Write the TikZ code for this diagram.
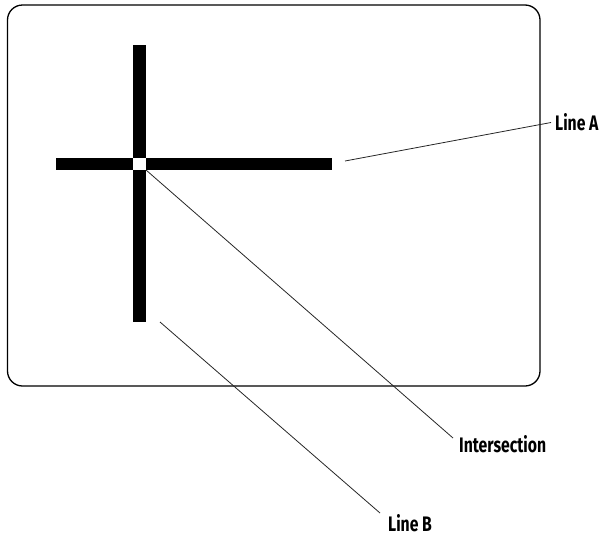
\documentclass[tikz,border=0pt]{standalone}
\usepackage{fontspec}
\newfontfamily\labelfont[FakeStretch=0.75]{Fira Sans}
\tikzset{
  frame/.style={draw=black, line width=1.3pt, rounded corners=15pt},
  bar/.style={fill=black},
  gap/.style={fill=white},
  leader/.style={draw=black!85, line width=0.8pt},
  lbl/.style={anchor=west, inner sep=0pt, font=\labelfont\bfseries\fontsize{21}{24}\selectfont}
}
\begin{document}
\begin{tikzpicture}[x=1pt,y=-1pt]
\useasboundingbox (0,0) rectangle (601,552);
\draw[frame] (7.5,5) rectangle (540,386);
% cross
\fill[bar] (56,158) rectangle (332,170);
\fill[bar] (133,45) rectangle (146,322);
\fill[gap] (133,158) rectangle (146,170);
% anchors on the drawing
\coordinate (aStart) at (345,161);
\coordinate (iStart) at (146,170);
\coordinate (bStart) at (160,322);
% labels
\node[lbl] (lineA) at (555,122.5) {Line A};
\node[lbl] (inter) at (459,444) {Intersection};
\node[lbl] (lineB) at (388,523) {Line B};
% leaders
\draw[leader] (aStart) -- ([xshift=-4pt]lineA.west);
\draw[leader] (iStart) -- ([xshift=-6pt,yshift=6pt]inter.west);
\draw[leader] (bStart) -- ([xshift=-8pt,yshift=10pt]lineB.west);
\end{tikzpicture}
\end{document}
